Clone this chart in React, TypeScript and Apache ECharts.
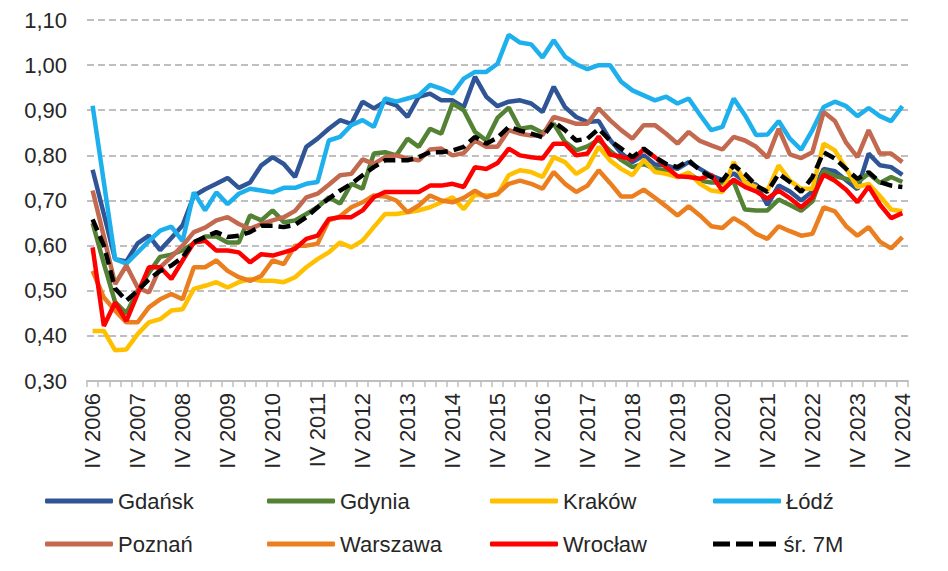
import { useEffect, useRef } from "react"
import * as echarts from "echarts"

// quarterly labels, IV 2006 .. IV 2024
const firstYear = 2006
const lastYear = 2024
const quarterNames = ["I", "II", "III", "IV"]
const categories: string[] = ["IV " + firstYear]
for (let y = firstYear + 1; y <= lastYear; y++) {
  for (const q of quarterNames) categories.push(q + " " + y)
}

const gdansk = [
  0.768, 0.67, 0.57, 0.565, 0.605, 0.622, 0.59, 0.617, 0.645, 0.71, 0.725, 0.737, 0.75, 0.728, 0.74, 0.778,
  0.796, 0.781, 0.752, 0.819, 0.837, 0.859, 0.878, 0.87, 0.919, 0.904, 0.919, 0.911, 0.885, 0.93, 0.937, 0.922,
  0.922, 0.907, 0.974, 0.93, 0.909, 0.919, 0.922, 0.915, 0.896, 0.952, 0.907, 0.885, 0.874, 0.876, 0.835, 0.805,
  0.785, 0.8, 0.78, 0.778, 0.77, 0.785, 0.77, 0.755, 0.745, 0.76, 0.742, 0.735, 0.69, 0.733, 0.72, 0.7,
  0.72, 0.77, 0.765, 0.745, 0.725, 0.804, 0.778, 0.774, 0.757,
]
const gdynia = [
  0.65, 0.56, 0.475, 0.45, 0.5, 0.54, 0.575, 0.58, 0.59, 0.605, 0.62, 0.62, 0.607, 0.607, 0.667, 0.656,
  0.678, 0.652, 0.656, 0.67, 0.685, 0.707, 0.693, 0.737, 0.726, 0.804, 0.807, 0.8, 0.837, 0.819, 0.859, 0.848,
  0.915, 0.9, 0.852, 0.833, 0.883, 0.906, 0.859, 0.863, 0.85, 0.87, 0.83, 0.811, 0.82, 0.835, 0.81, 0.79,
  0.774, 0.781, 0.77, 0.767, 0.752, 0.76, 0.744, 0.74, 0.74, 0.741, 0.68, 0.678, 0.678, 0.702, 0.69, 0.677,
  0.698, 0.766, 0.754, 0.748, 0.74, 0.76, 0.739, 0.752, 0.741,
]
const krakow = [
  0.411, 0.411, 0.368, 0.37, 0.404, 0.43, 0.437, 0.456, 0.459, 0.504, 0.511, 0.519, 0.507, 0.519, 0.526, 0.522,
  0.522, 0.519, 0.53, 0.552, 0.57, 0.585, 0.607, 0.596, 0.611, 0.641, 0.67, 0.67, 0.674, 0.678, 0.685, 0.696,
  0.707, 0.681, 0.713, 0.711, 0.713, 0.756, 0.767, 0.763, 0.752, 0.796, 0.785, 0.759, 0.774, 0.819, 0.789, 0.77,
  0.756, 0.79, 0.763, 0.759, 0.752, 0.762, 0.737, 0.722, 0.719, 0.785, 0.741, 0.73, 0.722, 0.778, 0.744, 0.726,
  0.726, 0.826, 0.811, 0.77, 0.73, 0.737, 0.71, 0.68, 0.676,
]
const lodz = [
  0.91, 0.74, 0.57, 0.56, 0.585, 0.61, 0.633, 0.642, 0.61, 0.718, 0.678, 0.718, 0.692, 0.715, 0.726, 0.722,
  0.718, 0.728, 0.728, 0.737, 0.741, 0.833, 0.841, 0.867, 0.878, 0.863, 0.926, 0.919, 0.926, 0.933, 0.956, 0.948,
  0.937, 0.97, 0.985, 0.985, 1.003, 1.067, 1.05, 1.046, 1.017, 1.055, 1.019, 1.002, 0.991, 1.0, 1.0, 0.963,
  0.944, 0.933, 0.922, 0.93, 0.915, 0.926, 0.89, 0.856, 0.863, 0.926, 0.889, 0.845, 0.846, 0.876, 0.837, 0.813,
  0.856, 0.907, 0.919, 0.909, 0.887, 0.905, 0.887, 0.876, 0.909,
]
const poznan = [
  0.722, 0.62, 0.515, 0.556, 0.507, 0.496, 0.552, 0.575, 0.6, 0.63, 0.64, 0.656, 0.663, 0.648, 0.637, 0.648,
  0.656, 0.663, 0.677, 0.707, 0.715, 0.735, 0.756, 0.759, 0.791, 0.781, 0.796, 0.8, 0.793, 0.789, 0.813, 0.815,
  0.8, 0.805, 0.833, 0.819, 0.819, 0.856, 0.848, 0.844, 0.845, 0.885, 0.878, 0.87, 0.87, 0.904, 0.878, 0.856,
  0.837, 0.867, 0.867, 0.848, 0.826, 0.852, 0.832, 0.822, 0.813, 0.841, 0.833, 0.819, 0.795, 0.859, 0.802, 0.794,
  0.807, 0.896, 0.876, 0.828, 0.796, 0.856, 0.804, 0.804, 0.785,
]
const warszawa = [
  0.544, 0.485, 0.456, 0.43, 0.43, 0.463, 0.481, 0.493, 0.481, 0.552, 0.552, 0.567, 0.544, 0.53, 0.522, 0.533,
  0.567, 0.559, 0.6, 0.6, 0.604, 0.656, 0.665, 0.685, 0.696, 0.711, 0.709, 0.7, 0.674, 0.689, 0.711, 0.7,
  0.696, 0.706, 0.722, 0.707, 0.715, 0.737, 0.744, 0.737, 0.726, 0.763, 0.737, 0.719, 0.733, 0.767, 0.739, 0.709,
  0.709, 0.724, 0.706, 0.687, 0.667, 0.687, 0.667, 0.643, 0.639, 0.661, 0.646, 0.626, 0.615, 0.643, 0.632, 0.622,
  0.626, 0.685, 0.676, 0.643, 0.622, 0.641, 0.609, 0.594, 0.619,
]
const wroclaw = [
  0.596, 0.422, 0.474, 0.433, 0.493, 0.552, 0.552, 0.526, 0.567, 0.607, 0.611, 0.589, 0.589, 0.585, 0.563, 0.581,
  0.578, 0.585, 0.593, 0.615, 0.622, 0.659, 0.663, 0.663, 0.678, 0.707, 0.719, 0.719, 0.719, 0.719, 0.733, 0.733,
  0.737, 0.73, 0.774, 0.77, 0.783, 0.815, 0.8, 0.796, 0.793, 0.826, 0.826, 0.8, 0.804, 0.842, 0.802, 0.797,
  0.791, 0.813, 0.796, 0.774, 0.754, 0.752, 0.748, 0.757, 0.722, 0.746, 0.73, 0.72, 0.704, 0.722, 0.705, 0.685,
  0.707, 0.757, 0.744, 0.724, 0.696, 0.731, 0.691, 0.661, 0.672,
]
const avg7m = [
  0.658, 0.6, 0.505, 0.478, 0.5, 0.525, 0.544, 0.556, 0.574, 0.608, 0.619, 0.63, 0.619, 0.622, 0.63, 0.644,
  0.644, 0.641, 0.646, 0.663, 0.685, 0.704, 0.722, 0.737, 0.756, 0.774, 0.789, 0.789, 0.789, 0.796, 0.807, 0.807,
  0.811, 0.819, 0.841, 0.826, 0.839, 0.863, 0.855, 0.848, 0.84, 0.874, 0.856, 0.833, 0.837, 0.859, 0.833, 0.815,
  0.796, 0.815, 0.796, 0.781, 0.774, 0.789, 0.767, 0.752, 0.744, 0.778, 0.759, 0.733, 0.719, 0.759, 0.741, 0.719,
  0.752, 0.807, 0.793, 0.77, 0.748, 0.763, 0.741, 0.733, 0.73,
]

const seriesNames = ["Gdańsk", "Gdynia", "Kraków", "Łódź", "Poznań", "Warszawa", "Wrocław", "śr. 7M"]
const seriesData = [gdansk, gdynia, krakow, lodz, poznan, warszawa, wroclaw, avg7m]
const seriesColors = ["#2F5597", "#548235", "#FFC000", "#1EB0EC", "#C3694F", "#EB7F1F", "#FF0000", "#000000"]

const font = "'Liberation Sans', Arial, sans-serif"
const textColor = "#262626"
const dashIcon = "path://M0,0H17V5H0Z M23,0H40V5H23Z M46,0H63V5H46Z"

export default function App() {
  const chartRef = useRef<HTMLDivElement>(null)

  useEffect(() => {
    document.body.style.margin = "0"
    if (!chartRef.current) return
    const chart = echarts.init(chartRef.current, null, { renderer: "svg" })

    const legendCols = [45, 267, 490, 713]
    const legendRows = [490, 533]

    chart.setOption({
      animation: false,
      textStyle: { fontFamily: font },
      grid: { left: 87, right: 40, top: 20, bottom: 190 },
      legend: seriesNames.map((name, i) => ({
        data: [{ name, icon: i === 7 ? dashIcon : "roundRect" }],
        left: legendCols[i % 4],
        top: legendRows[Math.floor(i / 4)],
        padding: 0,
        itemWidth: 68,
        itemHeight: 5,
        textStyle: { fontSize: 22, color: textColor, fontFamily: font },
        selectedMode: false,
      })),
      xAxis: {
        type: "category",
        data: categories,
        boundaryGap: true,
        axisLine: { lineStyle: { color: "#BFBFBF", width: 2 } },
        axisTick: { show: true, interval: 0, length: 6, lineStyle: { color: "#BFBFBF", width: 1.5 } },
        axisLabel: {
          interval: 3,
          rotate: 90,
          fontSize: 22,
          color: textColor,
          margin: 12,
          fontFamily: font,
        },
      },
      yAxis: {
        type: "value",
        min: 0.3,
        max: 1.1,
        interval: 0.1,
        axisLine: { show: false },
        axisTick: { show: false },
        axisLabel: {
          fontSize: 22,
          color: textColor,
          margin: 20,
          fontFamily: font,
          formatter: (v: number) => v.toFixed(2).replace(".", ","),
        },
        splitLine: { lineStyle: { color: "#BFBFBF", width: 2, type: [7, 4] } },
      },
      series: seriesNames.map((name, i) => ({
        name,
        type: "line",
        data: seriesData[i],
        symbol: "none",
        color: seriesColors[i],
        lineStyle: {
          color: seriesColors[i],
          width: 4.5,
          type: i === 7 ? [12, 6] : "solid",
        },
        z: 2 + i,
      })),
    })

    return () => {
      chart.dispose()
    }
  }, [])

  return <div ref={chartRef} style={{ width: 948, height: 571 }} />
}
